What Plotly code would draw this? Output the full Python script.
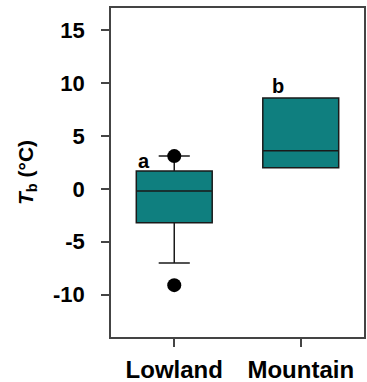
import plotly.graph_objects as go

categories = ["Lowland", "Mountain"]
q1 = [-3.2, 2.0]
median = [-0.2, 3.6]
q3 = [1.7, 8.6]
lowerfence = [-7.0, 2.0]
upperfence = [3.1, 8.6]
outlier_cat = ["Lowland", "Lowland"]
outlier_val = [3.1, -9.1]
letters = ["a", "b"]
letter_y = [2.6, 9.7]
letter_dx = [-0.24, -0.18]

yticks = [-10, -5, 0, 5, 10, 15]

teal = "#0f7f7f"
dark = "#1a1a1a"

fig = go.Figure()
fig.add_trace(go.Box(
    x=categories, q1=q1, median=median, q3=q3,
    lowerfence=lowerfence, upperfence=upperfence,
    fillcolor=teal, line=dict(color=dark, width=1.5),
    whiskerwidth=0.41, width=0.6, boxpoints=False, showlegend=False,
    hoverinfo="skip",
))
fig.add_trace(go.Scatter(
    x=outlier_cat, y=outlier_val, mode="markers",
    marker=dict(color="black", size=14), showlegend=False,
))
for c, t, yv, dx in zip(categories, letters, letter_y, letter_dx):
    fig.add_annotation(x=categories.index(c) + dx, y=yv, text="<b>%s</b>" % t,
                       showarrow=False, xref="x", yref="y",
                       font=dict(size=20, color="black", family="Liberation Sans"))

fig.update_layout(
    width=367, height=382,
    margin=dict(l=111, r=3, t=8, b=45),
    plot_bgcolor="white", paper_bgcolor="white",
    font=dict(family="Liberation Sans", color="black"),
    showlegend=False,
)
fig.update_xaxes(
    type="category", range=[-0.5, 1.5], automargin=False,
    showline=True, linecolor="#444", linewidth=1.5, mirror=True,
    ticks="outside", ticklen=8, tickcolor="#444", tickwidth=1.5,
    showgrid=False, zeroline=False, ticklabelstandoff=2,
    tickfont=dict(size=24, family="Liberation Sans", weight="bold"),
)
fig.update_yaxes(
    range=[-14, 17.1], tickvals=yticks, ticktext=[str(v) for v in yticks],
    automargin=False,
    showline=True, linecolor="#444", linewidth=1.5, mirror=True,
    ticks="outside", ticklen=8, tickcolor="#444", tickwidth=1.5,
    showgrid=False, zeroline=False, ticklabelstandoff=12,
    tickfont=dict(size=22, family="Liberation Sans", weight="bold"),
    title=dict(text="<i>T</i><sub>b</sub> (°C)", standoff=14,
               font=dict(size=21, family="Liberation Sans", weight="bold")),
)

fig.write_html(
    "out.html",
    config={"displayModeBar": False},
    post_script="document.body.style.margin='0';document.body.style.overflow='hidden';",
)
